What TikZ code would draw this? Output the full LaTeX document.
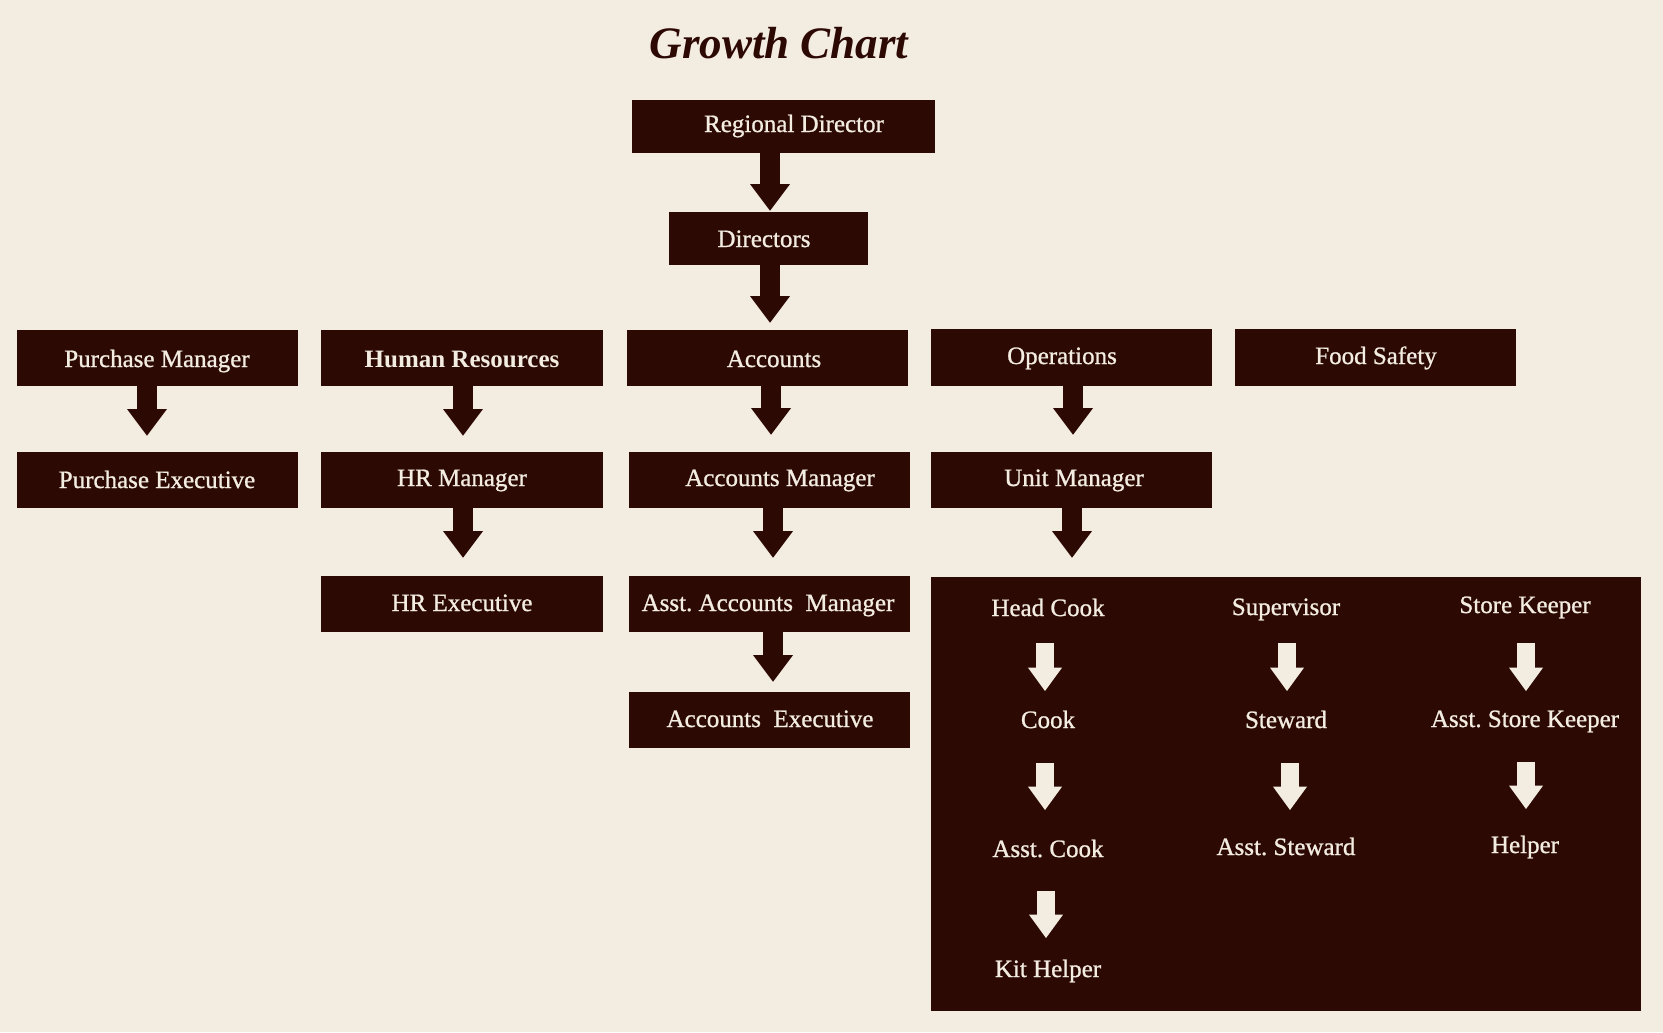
\documentclass[tikz,border=0pt]{standalone}
\usepackage{fontspec}
\setmainfont{Liberation Serif}
\newfontfamily\medfont[FakeBold=0.9]{Liberation Serif}
\usetikzlibrary{arrows.meta,calc,fit}
\definecolor{bg}{RGB}{243,236,225}
\definecolor{dk}{RGB}{45,9,3}
\definecolor{lt}{RGB}{243,236,225}
\frenchspacing
\begin{document}
\begin{tikzpicture}[x=0.75pt,y=-0.75pt,
  box/.style={fill=dk,draw=none,inner sep=0pt},
  lbl/.style={text=lt,inner sep=0pt,anchor=base,font=\medfont\fontsize{18.75}{22}\selectfont},
  ttl/.style={text=dk,inner sep=0pt,anchor=base,font=\fontsize{33.75}{40}\selectfont\bfseries\itshape},
  darr/.style={draw=dk,line width=15pt,-{Triangle[width=30pt,length=20pt,line width=0pt]}},
  larr/.style={draw=lt,line width=13.5pt,-{Triangle[width=25.5pt,length=17.5pt,line width=0pt]}}]
\fill[bg] (0,0) rectangle (1663,1032);
\useasboundingbox (0,0) rectangle (1663,1032);
\node[ttl] (title) at (779,58) {Growth Chart};
% boxes
\node[box,fit={(632,100)(935,153)}] (rd) {};
\node[box,fit={(669,212)(868,265)}] (dir) {};
\node[box,fit={(17,330)(298,386)}] (pm) {};
\node[box,fit={(321,330)(603,386)}] (hr) {};
\node[box,fit={(627,330)(908,386)}] (acc) {};
\node[box,fit={(931,329)(1212,386)}] (ops) {};
\node[box,fit={(1235,329)(1516,386)}] (fs) {};
\node[box,fit={(17,452)(298,508)}] (pe) {};
\node[box,fit={(321,452)(603,508)}] (hrm) {};
\node[box,fit={(629,452)(910,508)}] (am) {};
\node[box,fit={(931,452)(1212,508)}] (um) {};
\node[box,fit={(321,576)(603,632)}] (hre) {};
\node[box,fit={(629,576)(910,632)}] (aam) {};
\node[box,fit={(629,692)(910,748)}] (ae) {};
\node[box,fit={(931,577)(1641,1011)}] (big) {};
% labels
\node[lbl] (rdt) at (794,132) {Regional Director};
\node[lbl] (dirt) at (764,247) {Directors};
\node[lbl] (pmt) at (157,367) {Purchase Manager};
\node[lbl,font=\fontsize{18.75}{22}\selectfont\bfseries] (hrt) at (462,367) {Human Resources};
\node[lbl] (acct) at (774,367) {Accounts};
\node[lbl] (opst) at (1062,364) {Operations};
\node[lbl] (fst) at (1376,364) {Food Safety};
\node[lbl] (pet) at (157,488) {Purchase Executive};
\node[lbl] (hrmt) at (462,486) {HR Manager};
\node[lbl] (amt) at (780,486) {Accounts Manager};
\node[lbl] (umt) at (1074,486) {Unit Manager};
\node[lbl] (hret) at (462,611) {HR Executive};
\node[lbl] (aamt) at (768,611) {Asst. Accounts~~Manager};
\node[lbl] (aet) at (770,727) {Accounts~~Executive};
\node[lbl] (hc) at (1048,616) {Head Cook};
\node[lbl] (ck) at (1048,728) {Cook};
\node[lbl] (ac) at (1048,857) {Asst. Cook};
\node[lbl] (kh) at (1048,977) {Kit Helper};
\node[lbl] (sv) at (1286,615) {Supervisor};
\node[lbl] (st) at (1286,728) {Steward};
\node[lbl] (ast) at (1286,855) {Asst. Steward};
\node[lbl] (sk) at (1525,613) {Store Keeper};
\node[lbl] (ask) at (1525,727) {Asst. Store Keeper};
\node[lbl] (hp) at (1525,853) {Helper};
% dark arrows
\draw[darr] ($(rd.south)+(-13.5,0)$) -- ($(dir.north)+(1.5,-1)$);
\draw[darr] ($(dir.south)+(1.5,0)$) -- ($(acc.north)+(2.5,-7)$);
\draw[darr] ($(pm.south)+(-10.5,0)$) -- ($(pe.north)+(-10.5,-16)$);
\draw[darr] ($(hr.south)+(1,0)$) -- ($(hrm.north)+(1,-16)$);
\draw[darr] ($(hrm.south)+(1,0)$) -- ($(hre.north)+(1,-18)$);
\draw[darr] ($(acc.south)+(3.5,0)$) -- ($(am.north)+(1.5,-17)$);
\draw[darr] ($(am.south)+(3.5,0)$) -- ($(aam.north)+(3.5,-18)$);
\draw[darr] ($(aam.south)+(3.5,0)$) -- ($(ae.north)+(3.5,-10)$);
\draw[darr] ($(ops.south)+(1.5,0)$) -- ($(um.north)+(1.5,-17)$);
\draw[darr] ($(um.south)+(0.5,0)$) -- ($(um.south |- big.north)+(0.5,-19)$);
% light arrows
\draw[larr] ($(hc.base)+(-3,27)$) -- ($(ck.base)+(-3,-37)$);
\draw[larr] ($(ck.base)+(-3,35)$) -- ($(ac.base)+(-3,-47)$);
\draw[larr] ($(ac.base)+(-2,34)$) -- ($(kh.base)+(-2,-39)$);
\draw[larr] ($(sv.base)+(1,28)$) -- ($(st.base)+(1,-37)$);
\draw[larr] ($(st.base)+(4,35)$) -- ($(ast.base)+(4,-45)$);
\draw[larr] ($(sk.base)+(1,30)$) -- ($(ask.base)+(1,-36)$);
\draw[larr] ($(ask.base)+(1,35)$) -- ($(hp.base)+(1,-44)$);
\end{tikzpicture}
\end{document}
